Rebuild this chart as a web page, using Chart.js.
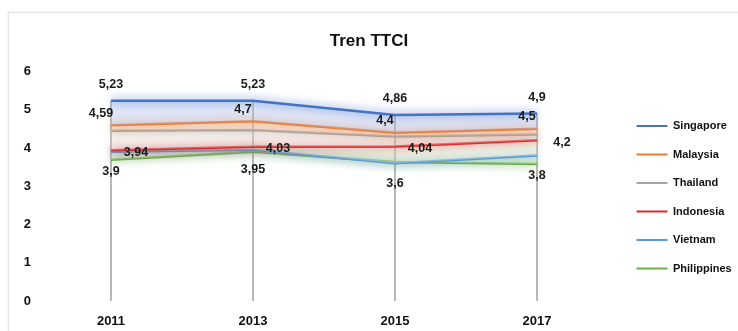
<!DOCTYPE html>
<html>
<head>
<meta charset="utf-8">
<script src="https://cdn.jsdelivr.net/npm/chart.js@4.4.1/dist/chart.umd.min.js"></script>
<style>
    html, body { margin: 0; padding: 0; background: #fff; }
    #wrap { position: relative; width: 738px; height: 331px; }
    #frame {
        position: absolute; left: 8px; top: 12px; right: 0; bottom: 0;
        border-left: 1px solid #e4e4e4; border-top: 1px solid #e4e4e4;
        box-shadow: -1px -1px 3px rgba(0,0,0,0.06);
    }
    canvas { position: absolute; left: 0; top: 0; }
</style>
</head>
<body>
<div id="wrap">
    <div id="frame"></div>
    <canvas id="chart" width="738" height="331"></canvas>
</div>
<script>
// data
const years = ['2011', '2013', '2015', '2017'];
const singapore = [5.23, 5.23, 4.86, 4.9];
const malaysia = [4.59, 4.7, 4.4, 4.5];
const thailand = [4.45, 4.47, 4.3, 4.35];
const indonesia = [3.94, 4.03, 4.04, 4.2];
const vietnam = [3.9, 3.95, 3.6, 3.8];
const philippines = [3.69, 3.9, 3.63, 3.58];

const FONT = '"Liberation Sans", Arial, sans-serif';

// where each series puts its value labels (series not listed get none)
const labelPlacement = {
    Singapore: { dx: 0, dy: -16 },
    Malaysia: { dx: -10, dy: -12 },
    Indonesia: { dx: 25, dy: 2 },
    Vietnam: { dx: 0, dy: 20 },
};

const fmt = v => String(v).replace('.', ',');

const dropLines = {
    id: 'dropLines',
    beforeDatasetsDraw(chart) {
        const { ctx, chartArea, scales } = chart;
        ctx.save();
        ctx.strokeStyle = '#a0a0a0';
        ctx.lineWidth = 1.5;
        years.forEach((_, i) => {
            const top = Math.max(...chart.data.datasets.map(d => d.data[i]));
            const x = scales.x.getPixelForValue(i);
            ctx.beginPath();
            ctx.moveTo(x, scales.y.getPixelForValue(top));
            ctx.lineTo(x, chartArea.bottom);
            ctx.stroke();
        });
        ctx.restore();
    }
};

const glow = {
    id: 'glow',
    beforeDatasetDraw(chart, args) {
        const ds = chart.data.datasets[args.index];
        chart.ctx.save();
        chart.ctx.shadowColor = ds.borderColor;
        chart.ctx.shadowBlur = 10;
    },
    afterDatasetDraw(chart) {
        chart.ctx.restore();
    }
};

// pin the legend width so its items start where the reference has them
const legendWidth = {
    id: 'legendWidth',
    afterInit(chart) {
        const fit = chart.legend.fit;
        chart.legend.fit = function () {
            fit.call(this);
            this.width = 119;
        };
    }
};

const valueLabels = {
    id: 'valueLabels',
    afterDatasetsDraw(chart) {
        const { ctx } = chart;
        ctx.save();
        ctx.font = 'bold 12.5px ' + FONT;
        ctx.fillStyle = '#1a1a1a';
        ctx.textAlign = 'center';
        ctx.textBaseline = 'middle';
        chart.data.datasets.forEach((ds, di) => {
            const place = labelPlacement[ds.label];
            if (!place) return;
            const meta = chart.getDatasetMeta(di);
            meta.data.forEach((pt, i) => {
                ctx.fillText(fmt(ds.data[i]), pt.x + place.dx, pt.y + place.dy);
            });
        });
        ctx.restore();
    }
};

function series(label, data, color, fillColor) {
    return {
        label,
        data,
        borderColor: color,
        backgroundColor: fillColor || 'rgba(0,0,0,0)',
        fill: fillColor ? '+1' : false,
        borderWidth: 2.5,
        pointRadius: 0,
        tension: 0,
    };
}

new Chart(document.getElementById('chart'), {
    type: 'line',
    data: {
        labels: years,
        datasets: [
            series('Singapore', singapore, '#4472C4', 'rgba(175,190,235,0.4)'),
            series('Malaysia', malaysia, '#ED7D31', 'rgba(245,200,175,0.4)'),
            series('Thailand', thailand, '#A5A5A5', 'rgba(235,215,200,0.35)'),
            series('Indonesia', indonesia, '#E0262B', 'rgba(215,230,200,0.4)'),
            series('Vietnam', vietnam, '#5B9BD5', 'rgba(190,230,180,0.45)'),
            series('Philippines', philippines, '#70AD47'),
        ]
    },
    options: {
        responsive: false,
        animation: false,
        layout: { padding: { left: 0, right: 0, bottom: 0, top: 0 } },
        plugins: {
            title: {
                display: true,
                text: 'Tren TTCI',
                color: '#111',
                font: { family: FONT, size: 17, weight: 'bold' },
                padding: { top: 31, bottom: 20 }
            },
            legend: {
                position: 'right',
                align: 'start',
                title: {
                    display: true,
                    text: ' ',
                    font: { size: 10 },
                    padding: { top: 91, bottom: 0 }
                },
                labels: {
                    boxWidth: 31,
                    boxHeight: 2,
                    padding: 17.5,
                    color: '#111',
                    font: { family: FONT, size: 11, weight: 'bold' },
                    generateLabels: (chart) => chart.data.datasets.map((ds, i) => ({
                        text: ds.label,
                        fillStyle: ds.borderColor,
                        strokeStyle: ds.borderColor,
                        fontColor: '#111',
                        lineWidth: 0,
                        hidden: false,
                        datasetIndex: i,
                    }))
                }
            },
            tooltip: { enabled: false }
        },
        scales: {
            x: {
                offset: true,
                grid: { display: false, drawTicks: false },
                border: { display: false },
                afterFit: (scale) => { scale.height = 30; },
                ticks: {
                    color: '#111',
                    padding: 13,
                    font: { family: FONT, size: 13, weight: 'bold' }
                }
            },
            y: {
                min: 0,
                max: 6,
                grid: { display: false, drawTicks: false },
                border: { display: false },
                afterFit: (scale) => { scale.width = 40; },
                ticks: {
                    stepSize: 1,
                    color: '#111',
                    padding: 9,
                    font: { family: FONT, size: 13, weight: 'bold' }
                }
            },
            gap: {
                position: 'right',
                display: true,
                grid: { display: false, drawTicks: false },
                border: { display: false },
                ticks: { display: false },
                afterFit: (scale) => { scale.width = 11; }
            }
        }
    },
    plugins: [dropLines, glow, legendWidth, valueLabels]
});
</script>
</body>
</html>
